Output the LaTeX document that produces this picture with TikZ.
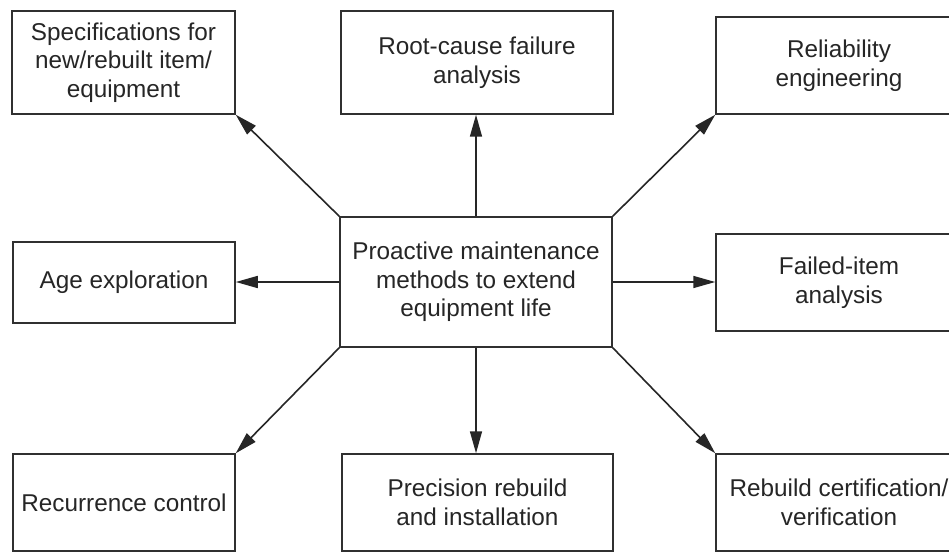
\documentclass[tikz,border=0pt]{standalone}
\usepackage{fontspec}
\setmainfont{Liberation Sans}
\usetikzlibrary{arrows.meta}
\definecolor{ink}{HTML}{262626}
\definecolor{edge}{HTML}{303030}
\begin{document}
\begin{tikzpicture}[x=1pt,y=-1pt,
  box/.style={draw=edge,line width=1.5pt,inner sep=0pt,align=center,text=ink,
    font=\fontsize{24.3}{28.7}\selectfont},
  arr/.style={draw=ink,line width=1.6pt,-{Triangle[length=22pt,width=12pt]}}]
\useasboundingbox[fill=white] (0,0) rectangle (949,556);
\clip (0,0) rectangle (949,556);
% boxes
\node[box,minimum width=223pt,minimum height=103pt] (spec) at (123.5,62.5) {Specifications for\\new/rebuilt item/\\equipment};
\node[box,minimum width=272pt,minimum height=103pt] (root) at (477,62.5) {Root-cause failure\\analysis};
\node[box,minimum width=246pt,minimum height=97pt] (rel) at (839,65.5) {Reliability\\engineering};
\node[box,minimum width=272pt,minimum height=130pt] (c) at (476,282) {Proactive maintenance\\methods to extend\\equipment life};
\node[box,minimum width=222pt,minimum height=81pt] (age) at (124,282.5) {Age exploration};
\node[box,minimum width=246pt,minimum height=97pt] (fail) at (839,282.5) {Failed-item\\analysis};
\node[box,minimum width=222pt,minimum height=97pt] (rec) at (124,502.5) {Recurrence control};
\node[box,minimum width=271pt,minimum height=97pt] (prec) at (477.5,502.5) {Precision rebuild\\and installation};
\node[box,minimum width=246pt,minimum height=97pt] (cert) at (839,502.5) {Rebuild certification/\\verification};
% connectors
\draw[arr] (c.north west) -- (spec.south east);
\draw[arr] (c.north) -- (c.north |- root.south);
\draw[arr] (c.north east) -- (rel.south west);
\draw[arr] (c.west) -- (c.west -| age.east);
\draw[arr] (c.east) -- (c.east -| fail.west);
\draw[arr] (c.south west) -- (rec.north east);
\draw[arr] (c.south) -- (c.south |- prec.north);
\draw[arr] (c.south east) -- (cert.north west);
\end{tikzpicture}
\end{document}
